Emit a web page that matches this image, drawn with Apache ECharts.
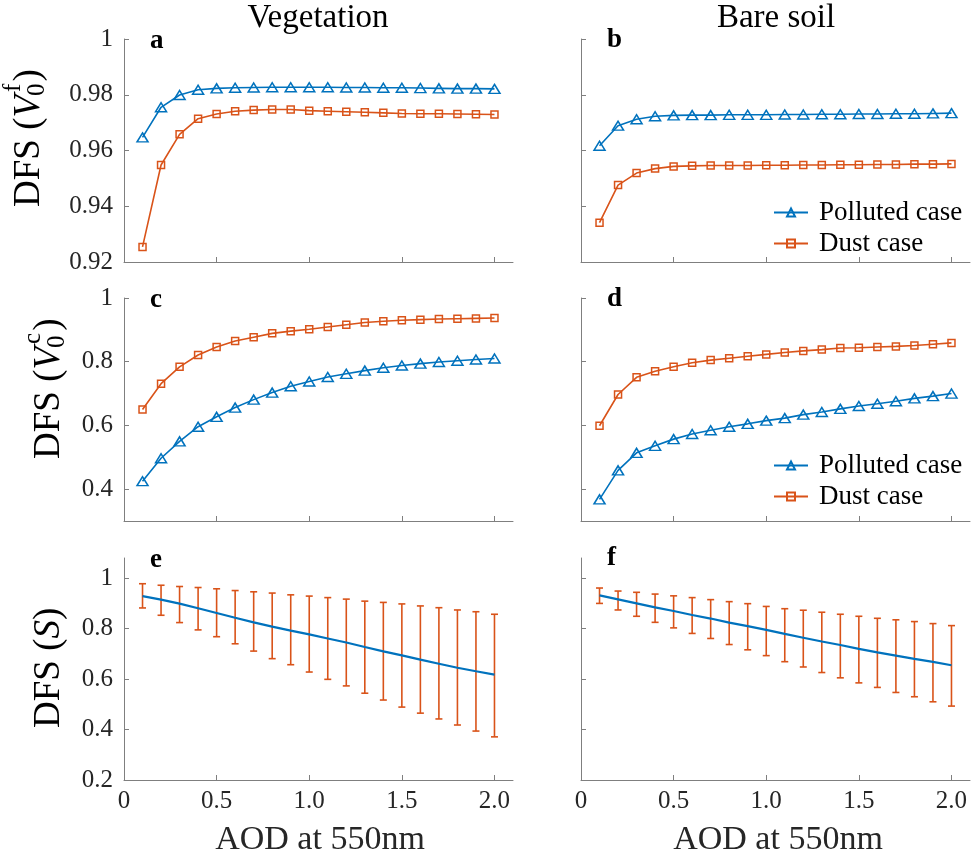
<!DOCTYPE html>
<html>
<head>
<meta charset="utf-8">
<script src="https://cdn.jsdelivr.net/npm/echarts@6/dist/echarts.min.js"></script>
<style>
  html, body { margin: 0; padding: 0; background: #fff; }
  #chart { width: 972px; height: 863px; }
</style>
</head>
<body>
<div id="chart"></div>
<script>
// AOD at 550 nm
const aod = [0.1, 0.2, 0.3, 0.4, 0.5, 0.6, 0.7, 0.8, 0.9, 1.0,
             1.1, 1.2, 1.3, 1.4, 1.5, 1.6, 1.7, 1.8, 1.9, 2.0];

// DFS of fine-mode volume, vegetation surface
const vegFinePolluted = [0.9647, 0.9755, 0.9799, 0.9818, 0.9823, 0.9825, 0.9826, 0.9827, 0.9827, 0.9827,
                         0.9827, 0.9826, 0.9826, 0.9825, 0.9825, 0.9824, 0.9823, 0.9822, 0.9822, 0.9821];
const vegFineDust = [0.9254, 0.9548, 0.9658, 0.9714, 0.9731, 0.9741, 0.9745, 0.9747, 0.9747, 0.9743,
                     0.9741, 0.9739, 0.9737, 0.9735, 0.9733, 0.9732, 0.9732, 0.9731, 0.9730, 0.9729];
// DFS of fine-mode volume, bare soil surface
const soilFinePolluted = [0.9617, 0.9689, 0.9712, 0.9723, 0.9726, 0.9727, 0.9727, 0.9728, 0.9728, 0.9728,
                          0.9729, 0.9729, 0.9730, 0.9730, 0.9731, 0.9731, 0.9732, 0.9732, 0.9733, 0.9734];
const soilFineDust = [0.9341, 0.9476, 0.9519, 0.9535, 0.9543, 0.9545, 0.9546, 0.9546, 0.9546, 0.9547,
                      0.9547, 0.9548, 0.9548, 0.9549, 0.9549, 0.9550, 0.9550, 0.9551, 0.9551, 0.9552];

// DFS of coarse-mode volume, vegetation surface
const vegCoarsePolluted = [0.425, 0.497, 0.550, 0.596, 0.627, 0.656, 0.681, 0.703, 0.723, 0.738,
                           0.752, 0.762, 0.772, 0.781, 0.788, 0.794, 0.799, 0.803, 0.807, 0.810];
const vegCoarseDust = [0.650, 0.731, 0.784, 0.821, 0.846, 0.865, 0.877, 0.889, 0.896, 0.902,
                       0.909, 0.916, 0.923, 0.927, 0.930, 0.932, 0.934, 0.935, 0.936, 0.937];
// DFS of coarse-mode volume, bare soil surface
const soilCoarsePolluted = [0.368, 0.459, 0.514, 0.536, 0.557, 0.573, 0.585, 0.596, 0.605, 0.615,
                            0.623, 0.634, 0.642, 0.652, 0.661, 0.668, 0.676, 0.685, 0.692, 0.700];
const soilCoarseDust = [0.599, 0.697, 0.751, 0.770, 0.784, 0.797, 0.805, 0.811, 0.817, 0.823,
                        0.829, 0.834, 0.838, 0.843, 0.844, 0.846, 0.848, 0.851, 0.855, 0.859];

// DFS of surface parameters: mean with lower / upper bounds
const vegSurface = [0.929, 0.915, 0.899, 0.881, 0.862, 0.843, 0.825, 0.808, 0.792, 0.777,
                    0.761, 0.745, 0.727, 0.710, 0.694, 0.677, 0.661, 0.645, 0.631, 0.618];
const vegSurfaceLow = [0.882, 0.853, 0.824, 0.795, 0.768, 0.740, 0.711, 0.681, 0.657, 0.628,
                       0.599, 0.573, 0.544, 0.517, 0.489, 0.465, 0.442, 0.418, 0.394, 0.371];
const vegSurfaceHigh = [0.978, 0.972, 0.967, 0.963, 0.958, 0.951, 0.946, 0.941, 0.934, 0.929,
                        0.923, 0.917, 0.909, 0.904, 0.898, 0.890, 0.883, 0.874, 0.867, 0.857];
const soilSurface = [0.932, 0.916, 0.900, 0.884, 0.870, 0.854, 0.840, 0.824, 0.810, 0.795,
                     0.779, 0.764, 0.749, 0.735, 0.720, 0.706, 0.693, 0.680, 0.668, 0.655];
const soilSurfaceLow = [0.900, 0.874, 0.849, 0.825, 0.803, 0.781, 0.761, 0.737, 0.716, 0.693,
                        0.669, 0.648, 0.626, 0.605, 0.585, 0.567, 0.547, 0.530, 0.510, 0.493];
const soilSurfaceHigh = [0.961, 0.949, 0.944, 0.937, 0.930, 0.923, 0.915, 0.907, 0.899, 0.888,
                         0.879, 0.873, 0.865, 0.857, 0.849, 0.841, 0.835, 0.828, 0.820, 0.812];

// Tick values
const xTicks = [0, 0.5, 1.0, 1.5, 2.0];
const yTicksFine = [0.92, 0.94, 0.96, 0.98, 1.0];
const yTicksCoarse = [0.4, 0.6, 0.8, 1.0];
const yTicksSurface = [0.2, 0.4, 0.6, 0.8, 1.0];

const BLUE = '#0072BD';
const ORANGE = '#D95319';
const AXIS = '#7f7f7f';
const TEXT = '#262626';
const SERIF = '"Liberation Serif", "Times New Roman", serif';

const grids = [
  { left: 124, top: 39,  width: 389, height: 223 },
  { left: 581, top: 39,  width: 389, height: 223 },
  { left: 124, top: 298, width: 389, height: 223 },
  { left: 581, top: 298, width: 389, height: 223 },
  { left: 124, top: 558, width: 389, height: 222 },
  { left: 581, top: 558, width: 389, height: 222 }
];

const yRanges = [[0.92, 1.0], [0.92, 1.0], [0.3, 1.0], [0.3, 1.0], [0.2, 1.08], [0.2, 1.08]];
const yTickSets = [yTicksFine, yTicksFine, yTicksCoarse, yTicksCoarse, yTicksSurface, yTicksSurface];

function fmtY(v, digits) { return Math.abs(v - 1) < 1e-9 ? '1' : v.toFixed(digits); }
function fmtX(v) { return v === 0 ? '0' : v.toFixed(1); }

const xAxes = grids.map((g, i) => ({
  type: 'value', gridIndex: i, min: 0, max: 2.1,
  axisLine: { show: true, onZero: false, lineStyle: { color: AXIS, width: 1 } },
  axisTick: { show: true, inside: true, length: 5, lineStyle: { color: AXIS }, customValues: [0.5, 1.0, 1.5, 2.0] },
  axisLabel: { show: i >= 4, customValues: xTicks, formatter: fmtX, color: TEXT, fontFamily: SERIF, fontSize: 25, margin: 9 },
  splitLine: { show: false }
}));

const yAxes = grids.map((g, i) => ({
  type: 'value', gridIndex: i, min: yRanges[i][0], max: yRanges[i][1],
  axisLine: { show: true, onZero: false, lineStyle: { color: AXIS, width: 1 } },
  axisTick: { show: true, inside: true, length: 5, lineStyle: { color: AXIS }, customValues: yTickSets[i] },
  axisLabel: {
    show: i % 2 === 0, customValues: yTickSets[i],
    formatter: v => fmtY(v, i < 2 ? 2 : 1),
    color: TEXT, fontFamily: SERIF, fontSize: 25, margin: 11
  },
  splitLine: { show: false }
}));

function pairs(ys) { return aod.map((x, k) => [x, ys[k]]); }

function markerLine(name, ys, idx, polluted) {
  return {
    name: name, type: 'line', xAxisIndex: idx, yAxisIndex: idx,
    data: pairs(ys),
    symbol: polluted ? 'triangle' : 'rect',
    symbolSize: polluted ? [11, 9] : 7,
    showAllSymbol: true,
    lineStyle: { color: polluted ? BLUE : ORANGE, width: 1.6 },
    itemStyle: { color: 'rgba(255,255,255,0)', borderColor: polluted ? BLUE : ORANGE, borderWidth: 1.5 },
    emphasis: { disabled: true },
    z: polluted ? 3 : 2
  };
}

function errorBars(idx, low, high) {
  return {
    type: 'custom', xAxisIndex: idx, yAxisIndex: idx,
    data: aod.map((x, k) => [x, low[k], high[k]]),
    encode: { x: 0, y: [1, 2] },
    renderItem: function (params, api) {
      const x = api.value(0);
      const top = api.coord([x, api.value(2)]);
      const bot = api.coord([x, api.value(1)]);
      const w = 3.5;
      const st = { stroke: ORANGE, lineWidth: 1.6 };
      return {
        type: 'group',
        children: [
          { type: 'line', shape: { x1: top[0], y1: top[1], x2: bot[0], y2: bot[1] }, style: st },
          { type: 'line', shape: { x1: top[0] - w, y1: top[1], x2: top[0] + w, y2: top[1] }, style: st },
          { type: 'line', shape: { x1: bot[0] - w, y1: bot[1], x2: bot[0] + w, y2: bot[1] }, style: st }
        ]
      };
    },
    z: 2
  };
}

function meanLine(idx, ys) {
  return {
    type: 'line', xAxisIndex: idx, yAxisIndex: idx, data: pairs(ys),
    symbol: 'none', lineStyle: { color: BLUE, width: 2.2 }, emphasis: { disabled: true }, z: 3
  };
}

const series = [
  markerLine('Polluted case', vegFinePolluted, 0, true),
  markerLine('Dust case', vegFineDust, 0, false),
  markerLine('Polluted case', soilFinePolluted, 1, true),
  markerLine('Dust case', soilFineDust, 1, false),
  markerLine('Polluted case', vegCoarsePolluted, 2, true),
  markerLine('Dust case', vegCoarseDust, 2, false),
  markerLine('Polluted case', soilCoarsePolluted, 3, true),
  markerLine('Dust case', soilCoarseDust, 3, false),
  errorBars(4, vegSurfaceLow, vegSurfaceHigh),
  meanLine(4, vegSurface),
  errorBars(5, soilSurfaceLow, soilSurfaceHigh),
  meanLine(5, soilSurface)
];

function legendAt(top) {
  return {
    left: 768, top: top, orient: 'vertical', itemGap: 4,
    itemWidth: 34, itemHeight: 10,
    data: ['Polluted case', 'Dust case'],
    textStyle: { fontFamily: SERIF, fontSize: 27, color: '#000', padding: [0, 0, 0, 6] },
    selectedMode: false
  };
}

// Text helpers
const measureCtx = document.createElement('canvas').getContext('2d');
function textWidth(str, size, style) {
  measureCtx.font = (style || '') + ' ' + size + 'px "Liberation Serif"';
  return measureCtx.measureText(str).width;
}
function txt(str, x, y, size, opts) {
  opts = opts || {};
  return {
    type: 'text', x: x, y: y, silent: true,
    style: {
      text: str, fontFamily: SERIF, fontSize: size,
      fontStyle: opts.italic ? 'italic' : 'normal',
      fontWeight: opts.bold ? 'bold' : 'normal',
      fill: opts.color || '#000',
      textAlign: opts.align || 'left', align: opts.align || 'left',
      textVerticalAlign: 'middle', verticalAlign: 'middle'
    }
  };
}

// Rotated y-axis title "DFS (sym_sub^sup)", read bottom to top from (cx, yStart)
function yTitle(cx, yStart, sym, sup, sub) {
  const big = 37, small = 25;
  const kids = [];
  let pos = 0;
  kids.push(txt('DFS (', pos, 0, big)); pos += textWidth('DFS (', big);
  kids.push(txt(sym, pos, 0, big, { italic: true })); pos += textWidth(sym, big, 'italic');
  if (sup || sub) {
    kids.push(txt(sup, pos + 3, -big * 0.42, small));
    kids.push(txt(sub, pos - 1, big * 0.24, small));
    pos += Math.max(textWidth(sup, small) + 3, textWidth(sub, small) - 1) + 2;
  }
  kids.push(txt(')', pos, 0, big));
  return { type: 'group', x: cx, y: yStart, rotation: Math.PI / 2, children: kids };
}

const graphics = [
  txt('Vegetation', 318, 18, 33, { align: 'center' }),
  txt('Bare soil', 776, 18, 33, { align: 'center' }),
  txt('AOD at 550nm', 320, 840, 34, { align: 'center', color: TEXT }),
  txt('AOD at 550nm', 778, 840, 34, { align: 'center', color: TEXT }),
  txt('a', 150, 41, 27, { bold: true }),
  txt('b', 607, 40, 27, { bold: true }),
  txt('c', 150, 300, 27, { bold: true }),
  txt('d', 607, 299, 27, { bold: true }),
  txt('e', 150, 560, 27, { bold: true }),
  txt('f', 607, 558, 27, { bold: true }),
  yTitle(29, 207, 'V', 'f', '0'),
  yTitle(49, 459, 'V', 'c', '0'),
  yTitle(49, 728, 'S', null, null)
];

const chart = echarts.init(document.getElementById('chart'), null, { renderer: 'canvas' });
chart.setOption({
  animation: false,
  backgroundColor: '#fff',
  grid: grids.map(g => Object.assign({ containLabel: false }, g)),
  xAxis: xAxes,
  yAxis: yAxes,
  legend: [legendAt(194), legendAt(447)],
  series: series,
  graphic: graphics
});
</script>
</body>
</html>
